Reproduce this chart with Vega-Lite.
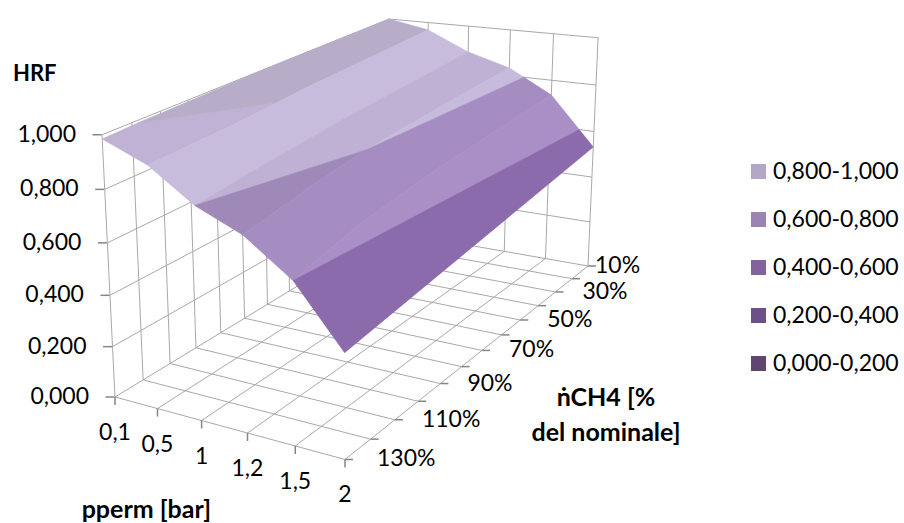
{
"$schema":"https://vega.github.io/schema/vega-lite/v6.json",
"width":904,"height":523,"padding":0,"autosize":{"type":"none"},
"background":"white",
"view":{"stroke":null},
"data":{"values":[
{"part":"grid","path":"lh0","seq":0,"p":0,"flow":130,"hrf":0},{"part":"grid","path":"lh0","seq":1,"p":0,"flow":10,"hrf":0},
{"part":"grid","path":"lh2","seq":0,"p":0,"flow":130,"hrf":0.2},{"part":"grid","path":"lh2","seq":1,"p":0,"flow":10,"hrf":0.2},
{"part":"grid","path":"lh4","seq":0,"p":0,"flow":130,"hrf":0.4},{"part":"grid","path":"lh4","seq":1,"p":0,"flow":10,"hrf":0.4},
{"part":"grid","path":"lh6","seq":0,"p":0,"flow":130,"hrf":0.6},{"part":"grid","path":"lh6","seq":1,"p":0,"flow":10,"hrf":0.6},
{"part":"grid","path":"lh8","seq":0,"p":0,"flow":130,"hrf":0.8},{"part":"grid","path":"lh8","seq":1,"p":0,"flow":10,"hrf":0.8},
{"part":"grid","path":"lh10","seq":0,"p":0,"flow":130,"hrf":1},{"part":"grid","path":"lh10","seq":1,"p":0,"flow":10,"hrf":1},
{"part":"grid","path":"rh0","seq":0,"p":0,"flow":10,"hrf":0},{"part":"grid","path":"rh0","seq":1,"p":5,"flow":10,"hrf":0},
{"part":"grid","path":"rh2","seq":0,"p":0,"flow":10,"hrf":0.2},{"part":"grid","path":"rh2","seq":1,"p":5,"flow":10,"hrf":0.2},
{"part":"grid","path":"rh4","seq":0,"p":0,"flow":10,"hrf":0.4},{"part":"grid","path":"rh4","seq":1,"p":5,"flow":10,"hrf":0.4},
{"part":"grid","path":"rh6","seq":0,"p":0,"flow":10,"hrf":0.6},{"part":"grid","path":"rh6","seq":1,"p":5,"flow":10,"hrf":0.6},
{"part":"grid","path":"rh8","seq":0,"p":0,"flow":10,"hrf":0.8},{"part":"grid","path":"rh8","seq":1,"p":5,"flow":10,"hrf":0.8},
{"part":"grid","path":"rh10","seq":0,"p":0,"flow":10,"hrf":1},{"part":"grid","path":"rh10","seq":1,"p":5,"flow":10,"hrf":1},
{"part":"grid","path":"lv130","seq":0,"p":0,"flow":130,"hrf":0},{"part":"grid","path":"lv130","seq":1,"p":0,"flow":130,"hrf":1},
{"part":"grid","path":"lv120","seq":0,"p":0,"flow":120,"hrf":0},{"part":"grid","path":"lv120","seq":1,"p":0,"flow":120,"hrf":1},
{"part":"grid","path":"lv110","seq":0,"p":0,"flow":110,"hrf":0},{"part":"grid","path":"lv110","seq":1,"p":0,"flow":110,"hrf":1},
{"part":"grid","path":"lv100","seq":0,"p":0,"flow":100,"hrf":0},{"part":"grid","path":"lv100","seq":1,"p":0,"flow":100,"hrf":1},
{"part":"grid","path":"lv90","seq":0,"p":0,"flow":90,"hrf":0},{"part":"grid","path":"lv90","seq":1,"p":0,"flow":90,"hrf":1},
{"part":"grid","path":"lv80","seq":0,"p":0,"flow":80,"hrf":0},{"part":"grid","path":"lv80","seq":1,"p":0,"flow":80,"hrf":1},
{"part":"grid","path":"lv70","seq":0,"p":0,"flow":70,"hrf":0},{"part":"grid","path":"lv70","seq":1,"p":0,"flow":70,"hrf":1},
{"part":"grid","path":"lv60","seq":0,"p":0,"flow":60,"hrf":0},{"part":"grid","path":"lv60","seq":1,"p":0,"flow":60,"hrf":1},
{"part":"grid","path":"lv50","seq":0,"p":0,"flow":50,"hrf":0},{"part":"grid","path":"lv50","seq":1,"p":0,"flow":50,"hrf":1},
{"part":"grid","path":"lv40","seq":0,"p":0,"flow":40,"hrf":0},{"part":"grid","path":"lv40","seq":1,"p":0,"flow":40,"hrf":1},
{"part":"grid","path":"lv30","seq":0,"p":0,"flow":30,"hrf":0},{"part":"grid","path":"lv30","seq":1,"p":0,"flow":30,"hrf":1},
{"part":"grid","path":"lv20","seq":0,"p":0,"flow":20,"hrf":0},{"part":"grid","path":"lv20","seq":1,"p":0,"flow":20,"hrf":1},
{"part":"grid","path":"lv10","seq":0,"p":0,"flow":10,"hrf":0},{"part":"grid","path":"lv10","seq":1,"p":0,"flow":10,"hrf":1},
{"part":"grid","path":"rv1","seq":0,"p":1,"flow":10,"hrf":0},{"part":"grid","path":"rv1","seq":1,"p":1,"flow":10,"hrf":1},
{"part":"grid","path":"rv2","seq":0,"p":2,"flow":10,"hrf":0},{"part":"grid","path":"rv2","seq":1,"p":2,"flow":10,"hrf":1},
{"part":"grid","path":"rv3","seq":0,"p":3,"flow":10,"hrf":0},{"part":"grid","path":"rv3","seq":1,"p":3,"flow":10,"hrf":1},
{"part":"grid","path":"rv4","seq":0,"p":4,"flow":10,"hrf":0},{"part":"grid","path":"rv4","seq":1,"p":4,"flow":10,"hrf":1},
{"part":"grid","path":"rv5","seq":0,"p":5,"flow":10,"hrf":0},{"part":"grid","path":"rv5","seq":1,"p":5,"flow":10,"hrf":1},
{"part":"grid","path":"fp1","seq":0,"p":1,"flow":130,"hrf":0},{"part":"grid","path":"fp1","seq":1,"p":1,"flow":10,"hrf":0},
{"part":"grid","path":"fp2","seq":0,"p":2,"flow":130,"hrf":0},{"part":"grid","path":"fp2","seq":1,"p":2,"flow":10,"hrf":0},
{"part":"grid","path":"fp3","seq":0,"p":3,"flow":130,"hrf":0},{"part":"grid","path":"fp3","seq":1,"p":3,"flow":10,"hrf":0},
{"part":"grid","path":"fp4","seq":0,"p":4,"flow":130,"hrf":0},{"part":"grid","path":"fp4","seq":1,"p":4,"flow":10,"hrf":0},
{"part":"grid","path":"fp5","seq":0,"p":5,"flow":130,"hrf":0},{"part":"grid","path":"fp5","seq":1,"p":5,"flow":10,"hrf":0},
{"part":"grid","path":"ff130","seq":0,"p":0,"flow":130,"hrf":0},{"part":"grid","path":"ff130","seq":1,"p":5,"flow":130,"hrf":0},
{"part":"grid","path":"ff120","seq":0,"p":0,"flow":120,"hrf":0},{"part":"grid","path":"ff120","seq":1,"p":5,"flow":120,"hrf":0},
{"part":"grid","path":"ff110","seq":0,"p":0,"flow":110,"hrf":0},{"part":"grid","path":"ff110","seq":1,"p":5,"flow":110,"hrf":0},
{"part":"grid","path":"ff100","seq":0,"p":0,"flow":100,"hrf":0},{"part":"grid","path":"ff100","seq":1,"p":5,"flow":100,"hrf":0},
{"part":"grid","path":"ff90","seq":0,"p":0,"flow":90,"hrf":0},{"part":"grid","path":"ff90","seq":1,"p":5,"flow":90,"hrf":0},
{"part":"grid","path":"ff80","seq":0,"p":0,"flow":80,"hrf":0},{"part":"grid","path":"ff80","seq":1,"p":5,"flow":80,"hrf":0},
{"part":"grid","path":"ff70","seq":0,"p":0,"flow":70,"hrf":0},{"part":"grid","path":"ff70","seq":1,"p":5,"flow":70,"hrf":0},
{"part":"grid","path":"ff60","seq":0,"p":0,"flow":60,"hrf":0},{"part":"grid","path":"ff60","seq":1,"p":5,"flow":60,"hrf":0},
{"part":"grid","path":"ff50","seq":0,"p":0,"flow":50,"hrf":0},{"part":"grid","path":"ff50","seq":1,"p":5,"flow":50,"hrf":0},
{"part":"grid","path":"ff40","seq":0,"p":0,"flow":40,"hrf":0},{"part":"grid","path":"ff40","seq":1,"p":5,"flow":40,"hrf":0},
{"part":"grid","path":"ff30","seq":0,"p":0,"flow":30,"hrf":0},{"part":"grid","path":"ff30","seq":1,"p":5,"flow":30,"hrf":0},
{"part":"grid","path":"ff20","seq":0,"p":0,"flow":20,"hrf":0},{"part":"grid","path":"ff20","seq":1,"p":5,"flow":20,"hrf":0},

{"part":"surface","path":"s1","shade":"f1","seq":0,"p":0,"flow":130,"hrf":0.985},
{"part":"surface","path":"s1","shade":"f1","seq":1,"p":0,"flow":118,"hrf":0.99},
{"part":"surface","path":"s1","shade":"f1","seq":2,"p":1,"flow":82,"hrf":0.937},
{"part":"surface","path":"s1","shade":"f1","seq":3,"p":1,"flow":100,"hrf":0.925},
{"part":"surface","path":"s1","shade":"f1","seq":4,"p":1,"flow":130,"hrf":0.916},
{"part":"surface","path":"s2","shade":"f2","seq":0,"p":0,"flow":118,"hrf":0.99},
{"part":"surface","path":"s2","shade":"f2","seq":1,"p":0,"flow":70,"hrf":1},
{"part":"surface","path":"s2","shade":"f2","seq":2,"p":0,"flow":10,"hrf":1},
{"part":"surface","path":"s2","shade":"f2","seq":3,"p":1,"flow":10,"hrf":0.967},
{"part":"surface","path":"s2","shade":"f2","seq":4,"p":1,"flow":70,"hrf":0.945},
{"part":"surface","path":"s2","shade":"f2","seq":5,"p":1,"flow":82,"hrf":0.937},
{"part":"surface","path":"s3","shade":"f3","seq":0,"p":1,"flow":130,"hrf":0.916},
{"part":"surface","path":"s3","shade":"f3","seq":1,"p":1,"flow":100,"hrf":0.925},
{"part":"surface","path":"s3","shade":"f3","seq":2,"p":1,"flow":70,"hrf":0.945},
{"part":"surface","path":"s3","shade":"f3","seq":3,"p":1,"flow":10,"hrf":0.967},
{"part":"surface","path":"s3","shade":"f3","seq":4,"p":2,"flow":10,"hrf":0.886},
{"part":"surface","path":"s3","shade":"f3","seq":5,"p":2,"flow":70,"hrf":0.855},
{"part":"surface","path":"s3","shade":"f3","seq":6,"p":2,"flow":100,"hrf":0.83},
{"part":"surface","path":"s3","shade":"f3","seq":7,"p":2,"flow":130,"hrf":0.8},
{"part":"surface","path":"s4","shade":"f4","seq":0,"p":2,"flow":130,"hrf":0.8},
{"part":"surface","path":"s4","shade":"f4","seq":1,"p":2,"flow":100,"hrf":0.83},
{"part":"surface","path":"s4","shade":"f4","seq":2,"p":2,"flow":70,"hrf":0.855},
{"part":"surface","path":"s4","shade":"f4","seq":3,"p":2,"flow":10,"hrf":0.886},
{"part":"surface","path":"s4","shade":"f4","seq":4,"p":3,"flow":10,"hrf":0.834},
{"part":"surface","path":"s4","shade":"f4","seq":5,"p":3,"flow":46,"hrf":0.82},
{"part":"surface","path":"s4","shade":"f4","seq":6,"p":3,"flow":82,"hrf":0.8},
{"part":"surface","path":"s5","shade":"f5","seq":0,"p":2,"flow":130,"hrf":0.8},
{"part":"surface","path":"s5","shade":"f5","seq":1,"p":3,"flow":82,"hrf":0.8},
{"part":"surface","path":"s5","shade":"f5","seq":2,"p":3,"flow":106,"hrf":0.77},
{"part":"surface","path":"s5","shade":"f5","seq":3,"p":3,"flow":130,"hrf":0.726},
{"part":"surface","path":"s6","shade":"f6","seq":0,"p":3,"flow":82,"hrf":0.8},
{"part":"surface","path":"s6","shade":"f6","seq":1,"p":3,"flow":46,"hrf":0.82},
{"part":"surface","path":"s6","shade":"f6","seq":2,"p":3,"flow":10,"hrf":0.834},
{"part":"surface","path":"s6","shade":"f6","seq":3,"p":3.35,"flow":10,"hrf":0.8},
{"part":"surface","path":"s7","shade":"f7","seq":0,"p":3,"flow":130,"hrf":0.726},
{"part":"surface","path":"s7","shade":"f7","seq":1,"p":3,"flow":106,"hrf":0.77},
{"part":"surface","path":"s7","shade":"f7","seq":2,"p":3,"flow":82,"hrf":0.8},
{"part":"surface","path":"s7","shade":"f7","seq":3,"p":3.35,"flow":10,"hrf":0.8},
{"part":"surface","path":"s7","shade":"f7","seq":4,"p":4,"flow":10,"hrf":0.736},
{"part":"surface","path":"s7","shade":"f7","seq":5,"p":4,"flow":70,"hrf":0.7},
{"part":"surface","path":"s7","shade":"f7","seq":6,"p":4,"flow":105,"hrf":0.66},
{"part":"surface","path":"s7","shade":"f7","seq":7,"p":4,"flow":130,"hrf":0.6},
{"part":"surface","path":"s8","shade":"f8","seq":0,"p":4,"flow":130,"hrf":0.6},
{"part":"surface","path":"s8","shade":"f8","seq":1,"p":4,"flow":105,"hrf":0.66},
{"part":"surface","path":"s8","shade":"f8","seq":2,"p":4,"flow":70,"hrf":0.7},
{"part":"surface","path":"s8","shade":"f8","seq":3,"p":4,"flow":10,"hrf":0.736},
{"part":"surface","path":"s8","shade":"f8","seq":4,"p":4.667,"flow":10,"hrf":0.6},
{"part":"surface","path":"s9","shade":"f9","seq":0,"p":4,"flow":130,"hrf":0.6},
{"part":"surface","path":"s9","shade":"f9","seq":1,"p":4.667,"flow":10,"hrf":0.6},
{"part":"surface","path":"s9","shade":"f9","seq":2,"p":5,"flow":10,"hrf":0.532},
{"part":"surface","path":"s9","shade":"f9","seq":3,"p":5,"flow":130,"hrf":0.385},

{"part":"hrfAxis","p":0,"flow":130,"hrf":0,"label":"0,000"},
{"part":"hrfAxis","p":0,"flow":130,"hrf":0.2,"label":"0,200"},
{"part":"hrfAxis","p":0,"flow":130,"hrf":0.4,"label":"0,400"},
{"part":"hrfAxis","p":0,"flow":130,"hrf":0.6,"label":"0,600"},
{"part":"hrfAxis","p":0,"flow":130,"hrf":0.8,"label":"0,800"},
{"part":"hrfAxis","p":0,"flow":130,"hrf":1,"label":"1,000"},
{"part":"ppermAxis","p":0,"flow":130,"hrf":0,"label":"0,1"},
{"part":"ppermAxis","p":1,"flow":130,"hrf":0,"label":"0,5"},
{"part":"ppermAxis","p":2,"flow":130,"hrf":0,"label":"1"},
{"part":"ppermAxis","p":3,"flow":130,"hrf":0,"label":"1,2"},
{"part":"ppermAxis","p":4,"flow":130,"hrf":0,"label":"1,5"},
{"part":"ppermAxis","p":5,"flow":130,"hrf":0,"label":"2"},
{"part":"flowAxis","p":5,"flow":10,"hrf":0,"label":"10%"},
{"part":"flowAxis","p":5,"flow":20,"hrf":0},
{"part":"flowAxis","p":5,"flow":30,"hrf":0,"label":"30%"},
{"part":"flowAxis","p":5,"flow":40,"hrf":0},
{"part":"flowAxis","p":5,"flow":50,"hrf":0,"label":"50%"},
{"part":"flowAxis","p":5,"flow":60,"hrf":0},
{"part":"flowAxis","p":5,"flow":70,"hrf":0,"label":"70%"},
{"part":"flowAxis","p":5,"flow":80,"hrf":0},
{"part":"flowAxis","p":5,"flow":90,"hrf":0,"label":"90%"},
{"part":"flowAxis","p":5,"flow":100,"hrf":0},
{"part":"flowAxis","p":5,"flow":110,"hrf":0,"label":"110%"},
{"part":"flowAxis","p":5,"flow":120,"hrf":0},
{"part":"flowAxis","p":5,"flow":130,"hrf":0,"label":"130%"},
{"part":"hrfTitle","p":0,"flow":130,"hrf":1,"label":"HRF"},
{"part":"ppermTitle","p":2.5,"flow":130,"hrf":0,"label":"pperm [bar]"},
{"part":"flowTitle","p":5,"flow":70,"hrf":0,"label":"ṅCH4 [%\ndel nominale]"}
]},
"transform":[
{"calculate":"datum.p/5","as":"u"},
{"calculate":"(130-datum.flow)/120","as":"v"},
{"calculate":"1-0.09427*datum.u+0.26454*datum.v-0.05*datum.hrf","as":"persp"},
{"calculate":"(197.48*datum.u+375.64*datum.v-18.1*datum.hrf+115)/datum.persp","as":"sx"},
{"calculate":"(19.18*datum.u-104.89*datum.v-269*datum.hrf+397)/datum.persp","as":"sy"}
],
"encoding":{
"x":{"field":"sx","type":"quantitative","axis":null,"scale":{"domain":[0,904],"range":[0,904],"nice":false,"zero":false}},
"y":{"field":"sy","type":"quantitative","axis":null,"scale":{"domain":[0,523],"range":[0,523],"nice":false,"zero":false}}
},
"layer":[
{"transform":[{"filter":"datum.part==='grid'"}],
 "mark":{"type":"line","stroke":"#a8a8a8","strokeWidth":1,"clip":false},
 "encoding":{"detail":{"field":"path"},"order":{"field":"seq","type":"quantitative"}}},
{"transform":[{"filter":"datum.part==='hrfAxis'"}],
 "mark":{"type":"tick","orient":"horizontal","size":9,"thickness":1.5,"xOffset":-5,"color":"#868686","opacity":1}},
{"transform":[{"filter":"datum.part==='ppermAxis'"}],
 "mark":{"type":"tick","orient":"vertical","size":8,"thickness":1.5,"yOffset":4,"color":"#868686","opacity":1}},
{"transform":[{"filter":"datum.part==='flowAxis'"}],
 "mark":{"type":"tick","orient":"horizontal","size":8,"thickness":1.5,"xOffset":4,"color":"#868686","opacity":1}},
{"transform":[{"filter":"datum.part==='surface'"}],
 "mark":{"type":"line","interpolate":"linear-closed","strokeWidth":0.6,"strokeJoin":"round"},
 "encoding":{
  "detail":{"field":"path"},
  "order":{"field":"seq","type":"quantitative"},
  "stroke":{"field":"shade","type":"nominal","legend":null,
    "scale":{"domain":["f1","f2","f3","f4","f5","f6","f7","f8","f9"],
             "range":["#bfb2d4","#b7adc9","#c7bcdc","#bfb1d3","#9e89b9","#c6bbdc","#a58dc2","#a98fc5","#8b6bac"]}},
  "fill":{"field":"shade","type":"nominal",
    "scale":{"domain":["f1","f2","f3","f4","f5","f6","f7","f8","f9","0,800-1,000","0,600-0,800","0,400-0,600","0,200-0,400","0,000-0,200"],
             "range":["#bfb2d4","#b7adc9","#c7bcdc","#bfb1d3","#9e89b9","#c6bbdc","#a58dc2","#a98fc5","#8b6bac","#b3a7c5","#9b83b3","#82639c","#6c5088","#5e4670"]},
    "legend":{"values":["0,800-1,000","0,600-0,800","0,400-0,600","0,200-0,400","0,000-0,200"],
      "title":null,"orient":"none","legendX":747,"legendY":160,"symbolType":"square","symbolSize":225,"symbolStrokeWidth":0,"symbolOpacity":1,
      "labelFont":"Lato","labelFontSize":23,"labelColor":"#000000","labelLimit":200,"labelOffset":3,"rowPadding":24}}
 }},
{"transform":[{"filter":"datum.part==='hrfAxis'"}],
 "mark":{"type":"text","font":"Lato","fontSize":23,"align":"right","baseline":"middle","dx":-26,"color":"#000000"},
 "encoding":{"text":{"field":"label"}}},
{"transform":[{"filter":"datum.part==='ppermAxis'"}],
 "mark":{"type":"text","font":"Lato","fontSize":23,"align":"center","baseline":"middle","dy":36,"color":"#000000"},
 "encoding":{"text":{"field":"label"}}},
{"transform":[{"filter":"datum.part==='flowAxis' && datum.flow===10"}],
 "mark":{"type":"text","font":"Lato","fontSize":23,"align":"left","baseline":"middle","dx":7,"color":"#000000"},
 "encoding":{"text":{"field":"label"}}},
{"transform":[{"filter":"datum.part==='flowAxis' && datum.flow>10 && datum.flow<130 && datum.label"}],
 "mark":{"type":"text","font":"Lato","fontSize":23,"align":"left","baseline":"middle","dx":27,"color":"#000000"},
 "encoding":{"text":{"field":"label"}}},
{"transform":[{"filter":"datum.part==='flowAxis' && datum.flow===130"}],
 "mark":{"type":"text","font":"Lato","fontSize":23,"align":"left","baseline":"middle","dx":32,"color":"#000000"},
 "encoding":{"text":{"field":"label"}}},
{"transform":[{"filter":"datum.part==='hrfTitle'"}],
 "mark":{"type":"text","font":"Lato","fontWeight":"bold","fontSize":22,"align":"left","baseline":"middle","dx":-89,"dy":-61,"color":"#000000"},
 "encoding":{"text":{"field":"label"}}},
{"transform":[{"filter":"datum.part==='ppermTitle'"}],
 "mark":{"type":"text","font":"Lato","fontWeight":"bold","fontSize":25,"align":"center","baseline":"middle","dx":-78,"dy":83,"color":"#000000"},
 "encoding":{"text":{"field":"label"}}},
{"transform":[{"filter":"datum.part==='flowTitle'"}],
 "mark":{"type":"text","font":"Lato","fontWeight":"bold","fontSize":25,"align":"center","baseline":"top","dx":124,"dy":36,"lineBreak":"\n","lineHeight":35,"color":"#000000"},
 "encoding":{"text":{"field":"label"}}}
]
}
